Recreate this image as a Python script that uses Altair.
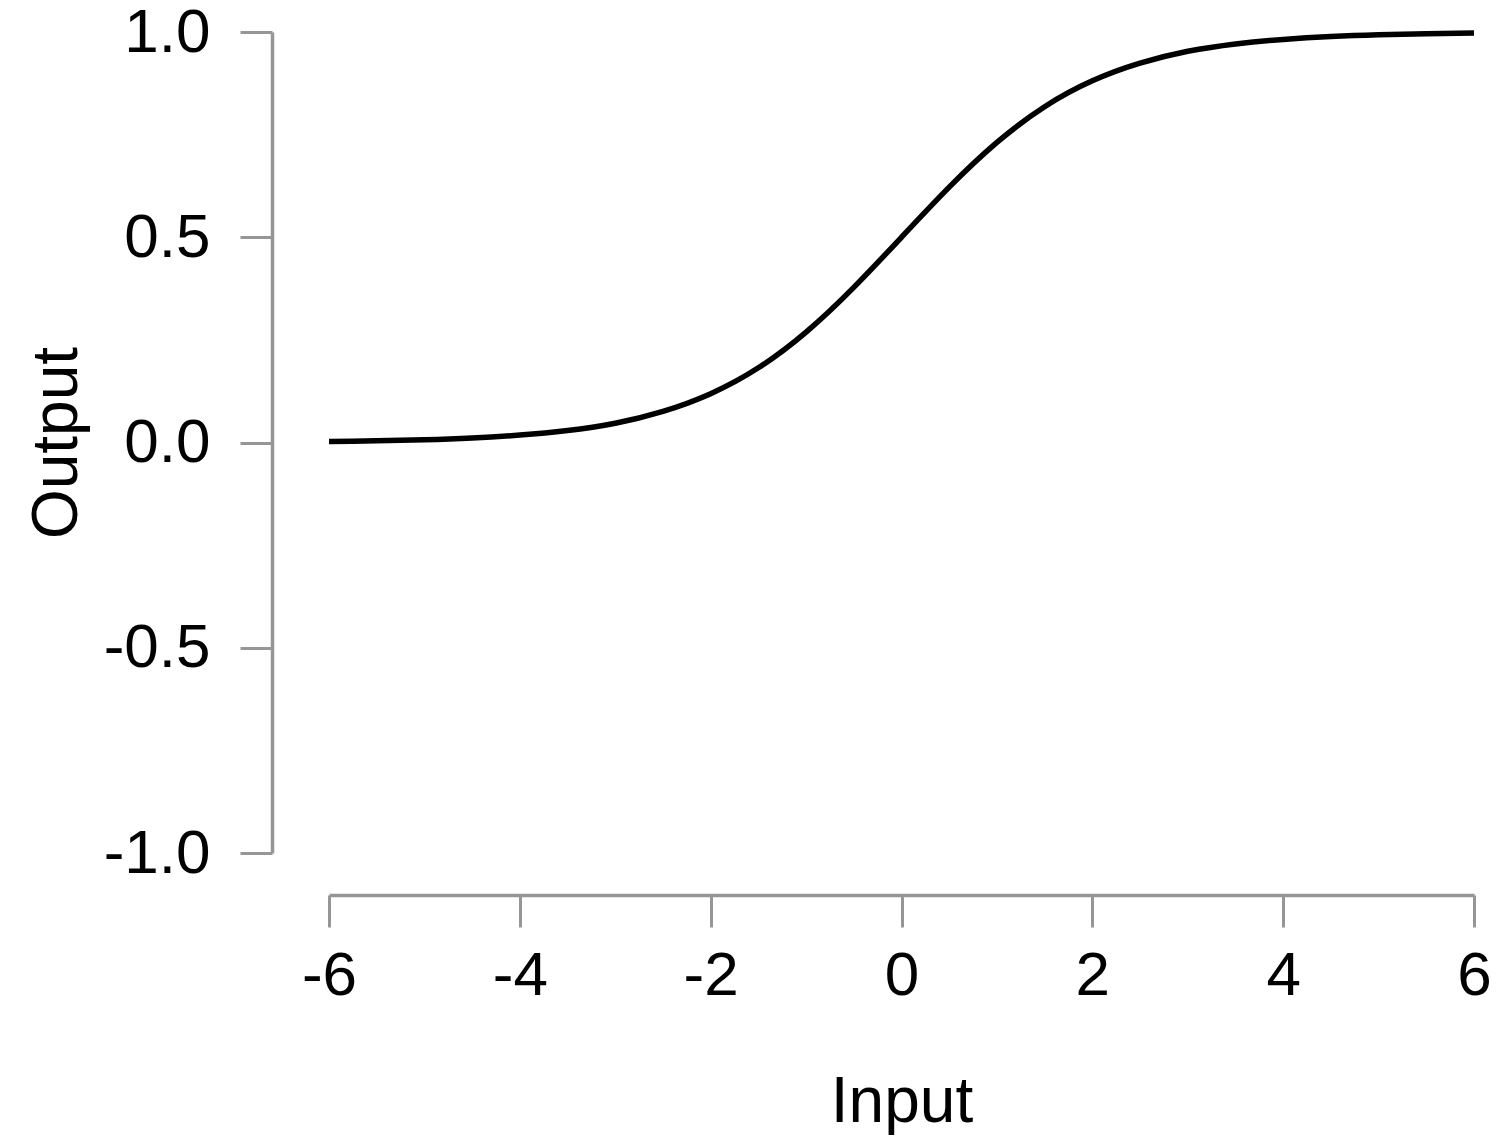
import altair as alt
import pandas as pd

# values
inputs = [-6, -5.5, -5, -4.5, -4, -3.5, -3, -2.5, -2, -1.5, -1, -0.5, 0,
          0.5, 1, 1.5, 2, 2.5, 3, 3.5, 4, 4.5, 5, 5.5, 6]
outputs = [0.0025, 0.0041, 0.0067, 0.011, 0.018, 0.029, 0.047, 0.076, 0.119, 0.182,
           0.269, 0.378, 0.5, 0.622, 0.731, 0.818, 0.881, 0.924, 0.953, 0.971, 0.982,
           0.989, 0.9933, 0.9959, 0.9975]
x_ticks = [-6, -4, -2, 0, 2, 4, 6]
y_ticks = [-1.0, -0.5, 0.0, 0.5, 1.0]

df = pd.DataFrame({"Input": inputs, "Output": outputs})

FONT = "Liberation Sans"
AXIS_COLOR = "#969696"
HYPHEN = "replace(datum.label, '\u2212', '-')"

chart = (
    alt.Chart(df)
    .mark_line(color="black", strokeWidth=5.5, interpolate="natural")
    .encode(
        x=alt.X(
            "Input:Q",
            scale=alt.Scale(domain=[-6, 6], nice=False, zero=False),
            axis=alt.Axis(
                title="Input",
                values=x_ticks,
                format="d",
                labelExpr=HYPHEN,
                grid=False,
                offset=42,
                tickSize=32,
                tickWidth=3,
                tickColor=AXIS_COLOR,
                domainColor=AXIS_COLOR,
                domainWidth=3.5,
                labelFont=FONT,
                labelFontSize=62,
                labelColor="black",
                labelPadding=18,
                labelFlush=False,
                titleFont=FONT,
                titleFontSize=64,
                titleFontWeight="normal",
                titleColor="black",
                titlePadding=64,
            ),
        ),
        y=alt.Y(
            "Output:Q",
            scale=alt.Scale(domain=[-1, 1], nice=False, zero=False),
            axis=alt.Axis(
                title="Output",
                values=y_ticks,
                format=".1f",
                labelExpr=HYPHEN,
                grid=False,
                offset=57,
                tickSize=32,
                tickWidth=3,
                tickColor=AXIS_COLOR,
                domainColor=AXIS_COLOR,
                domainWidth=3.5,
                labelFont=FONT,
                labelFontSize=62,
                labelColor="black",
                labelPadding=30,
                labelFlush=False,
                titleFont=FONT,
                titleFontSize=64,
                titleFontWeight="normal",
                titleColor="black",
                titlePadding=14,
            ),
        ),
    )
    .properties(
        width=1145,
        height=821,
        background="white",
        autosize=alt.AutoSizeParams(type="none"),
        padding={"left": 321, "top": 24, "right": 18, "bottom": 284},
    )
    .configure_view(strokeWidth=0, stroke=None)
)

chart.save("out.html", embed_options={"renderer": "svg", "actions": False})
